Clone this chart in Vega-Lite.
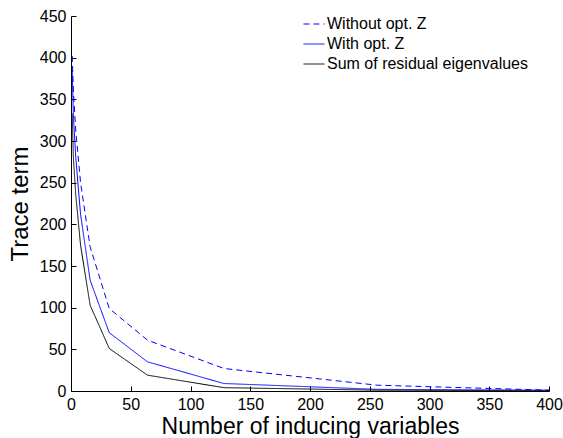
{
  "$schema": "https://vega.github.io/schema/vega-lite/v6.json",
  "width": 478,
  "height": 375,
  "autosize": {"type": "none"},
  "padding": {"left": 71, "top": 16, "right": 14, "bottom": 47},
  "background": "white",
  "config": {
    "view": {"stroke": null},
    "font": "Liberation Sans"
  },
  "data": {
    "values": [
      {"n": 1, "series": "Without opt. Z", "v": 402},
      {"n": 2, "series": "Without opt. Z", "v": 360},
      {"n": 4, "series": "Without opt. Z", "v": 312},
      {"n": 8, "series": "Without opt. Z", "v": 250},
      {"n": 16, "series": "Without opt. Z", "v": 173},
      {"n": 32, "series": "Without opt. Z", "v": 99},
      {"n": 64, "series": "Without opt. Z", "v": 61},
      {"n": 128, "series": "Without opt. Z", "v": 27},
      {"n": 256, "series": "Without opt. Z", "v": 7},
      {"n": 400, "series": "Without opt. Z", "v": 1},
      {"n": 1, "series": "With opt. Z", "v": 385},
      {"n": 2, "series": "With opt. Z", "v": 330},
      {"n": 4, "series": "With opt. Z", "v": 280},
      {"n": 8, "series": "With opt. Z", "v": 212},
      {"n": 16, "series": "With opt. Z", "v": 133},
      {"n": 32, "series": "With opt. Z", "v": 70},
      {"n": 64, "series": "With opt. Z", "v": 35},
      {"n": 128, "series": "With opt. Z", "v": 9},
      {"n": 256, "series": "With opt. Z", "v": 2},
      {"n": 400, "series": "With opt. Z", "v": 1},
      {"n": 1, "series": "Sum of residual eigenvalues", "v": 333},
      {"n": 2, "series": "Sum of residual eigenvalues", "v": 280},
      {"n": 4, "series": "Sum of residual eigenvalues", "v": 235},
      {"n": 8, "series": "Sum of residual eigenvalues", "v": 175},
      {"n": 16, "series": "Sum of residual eigenvalues", "v": 103},
      {"n": 32, "series": "Sum of residual eigenvalues", "v": 51},
      {"n": 64, "series": "Sum of residual eigenvalues", "v": 19},
      {"n": 128, "series": "Sum of residual eigenvalues", "v": 4},
      {"n": 256, "series": "Sum of residual eigenvalues", "v": 1},
      {"n": 400, "series": "Sum of residual eigenvalues", "v": 0.3}
    ]
  },
  "mark": {"type": "line", "strokeWidth": 1, "clip": true},
  "encoding": {
    "x": {
      "field": "n", "type": "quantitative",
      "scale": {"domain": [0, 400], "nice": false},
      "axis": {
        "values": [0, 50, 100, 150, 200, 250, 300, 350, 400],
        "title": "Number of inducing variables",
        "titleFontSize": 23, "titleFontWeight": "normal", "titleColor": "black",
        "titleBaseline": "alphabetic", "titleY": 42.5,
        "labelFontSize": 16, "labelColor": "black", "labelPadding": 10, "labelFlush": false,
        "tickSize": -5, "tickColor": "black", "domainColor": "black",
        "grid": false
      }
    },
    "y": {
      "field": "v", "type": "quantitative",
      "scale": {"domain": [0, 450], "nice": false},
      "axis": {
        "values": [0, 50, 100, 150, 200, 250, 300, 350, 400, 450],
        "title": "Trace term",
        "titleFontSize": 24, "titleFontWeight": "normal", "titleColor": "black", "titlePadding": 7,
        "labelFontSize": 16, "labelColor": "black", "labelPadding": 10, "labelFlush": false,
        "tickSize": -5, "tickColor": "black", "domainColor": "black",
        "grid": false
      }
    },
    "color": {
      "field": "series", "type": "nominal",
      "scale": {"domain": ["Without opt. Z", "With opt. Z", "Sum of residual eigenvalues"], "range": ["#0000ff", "#0000ff", "#000000"]},
      "legend": {
        "title": null, "orient": "none", "legendX": 232, "legendY": -3,
        "symbolType": "stroke", "symbolSize": 441, "symbolStrokeWidth": 1,
        "labelFontSize": 16, "labelColor": "black", "rowPadding": 1, "labelOffset": 2, "labelLimit": 400
      }
    },
    "strokeDash": {
      "field": "series", "type": "nominal",
      "scale": {"domain": ["Without opt. Z", "With opt. Z", "Sum of residual eigenvalues"], "range": [[6, 4], [1, 0], [1, 0]]}
    }
  }
}
